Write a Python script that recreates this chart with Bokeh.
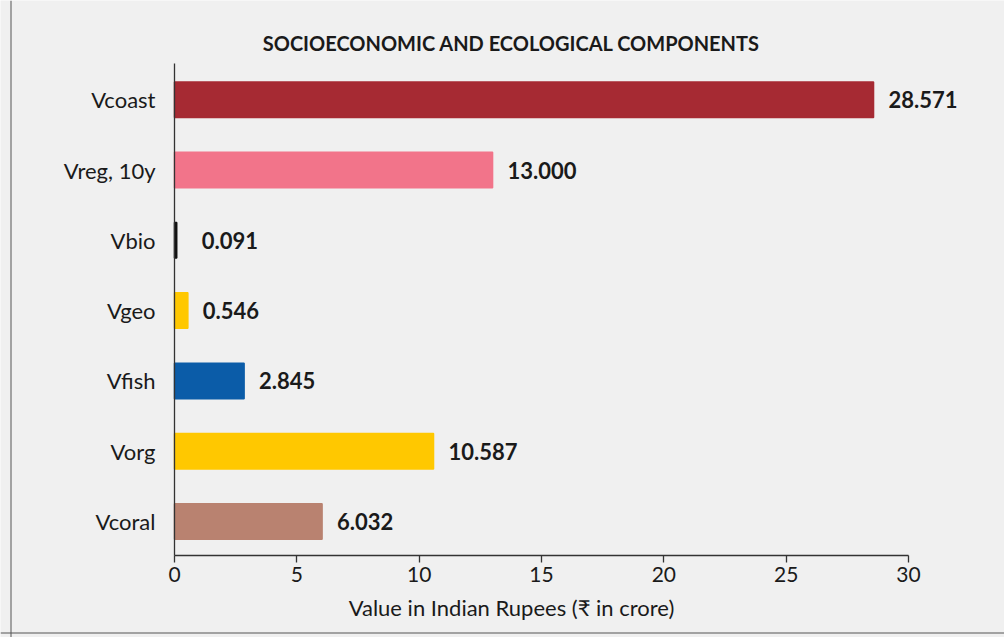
from bokeh.plotting import figure
from bokeh.models import ColumnDataSource, Label, LabelSet, Range1d, FixedTicker, Span
from bokeh.core.properties import value
from bokeh.embed import file_html
from bokeh.resources import INLINE

# ---- data ----
categories = ["Vcoast", "Vreg, 10y", "Vbio", "Vgeo", "Vfish", "Vorg", "Vcoral"]
values = [28.571, 13.000, 0.091, 0.546, 2.845, 10.587, 6.032]
value_labels = ["28.571", "13.000", "0.091", "0.546", "2.845", "10.587", "6.032"]
colors = ["#a62a33", "#f2748a", "#111111", "#ffc800", "#0b5ca8", "#ffc800", "#b98270"]
x_ticks = [0, 5, 10, 15, 20, 25, 30]
title_text = "SOCIOECONOMIC AND ECOLOGICAL COMPONENTS"
xlabel_text = "Value in Indian Rupees (\u20b9 in crore)"

FONT = "Lato"
BG = "#f0f0f0"
TXT = "#1a1a1a"

# ---- layout (page pixels; Bokeh's page template has no body margin) ----
FIG_W, FIG_H = 1004, 637
PAGE_L, PAGE_T = 0, 0
X0_PAGE = 174.0              # page x of value 0
PX_X = (908.0 - 174.0) / 30  # pixels per unit on x
Y0_PAGE = 521.0              # page y of the lowest category
PX_Y = 70.3                  # pixels per category step
BAR_EDGE = 1.5               # outline width of each bar (same colour)


def dx(px):
    return (px - X0_PAGE) / PX_X


def dy(py):
    return (Y0_PAGE - py) / PX_Y


n = len(categories)
ypos = list(range(n))[::-1]

src = ColumnDataSource(dict(
    y=ypos,
    val=values,
    lab=value_labels,
    col=colors,
    lx=[max(v, 0.5) for v in values],
))

p = figure(
    width=FIG_W, height=FIG_H,
    x_range=Range1d(dx(PAGE_L), dx(PAGE_L + FIG_W)),
    y_range=Range1d(dy(PAGE_T + FIG_H), dy(PAGE_T)),
    output_backend="svg", toolbar_location=None,
    min_border=0,
)
p.background_fill_color = BG
p.border_fill_color = BG
p.outline_line_color = None
p.grid.grid_line_color = None

p.hbar(y="y", right="val", left=0, height=(37 - BAR_EDGE) / PX_Y,
       fill_color="col", line_color="col", line_width=BAR_EDGE, source=src)

p.add_layout(LabelSet(x="lx", y="y", text="lab", source=src, x_offset=15,
                      text_baseline="middle", text_align="left",
                      text_font=value(FONT), text_font_style="bold",
                      text_font_size="22px", text_color=TXT))

# axes drawn at fixed positions
x_axis_y = dy(555)
y_axis_top = dy(63)

p.xaxis.fixed_location = x_axis_y
p.xaxis.bounds = (0, 30)
p.xaxis.ticker = FixedTicker(ticks=x_ticks)
p.xaxis.minor_tick_line_color = None
p.xaxis.major_tick_out = 7
p.xaxis.major_tick_in = 0
p.xaxis.axis_line_color = "#333333"
p.xaxis.major_tick_line_color = "#333333"
p.xaxis.axis_line_width = 1.3
p.xaxis.major_tick_line_width = 1.3
p.xaxis.major_label_text_font = FONT
p.xaxis.major_label_text_font_size = "21px"
p.xaxis.major_label_text_color = TXT
p.xaxis.major_label_standoff = 4

p.yaxis.fixed_location = 0
p.yaxis.bounds = (x_axis_y, y_axis_top)
p.yaxis.ticker = FixedTicker(ticks=ypos)
p.yaxis.major_label_overrides = {y: c for y, c in zip(ypos, categories)}
p.yaxis.major_tick_line_color = None
p.yaxis.minor_tick_line_color = None
p.yaxis.axis_line_color = "#333333"
p.yaxis.axis_line_width = 1.3
p.yaxis.major_label_text_font = FONT
p.yaxis.major_label_text_font_size = "22px"
p.yaxis.major_label_text_color = TXT
p.yaxis.major_label_standoff = 13

# title and axis label, centred on the chart block
p.add_layout(Label(x=dx(511), y=dy(42), text=title_text,
                   text_align="center", text_baseline="middle",
                   text_font=FONT, text_font_style="bold", text_font_size="20px",
                   text_color=TXT))
p.add_layout(Label(x=dx(511), y=dy(607), text=xlabel_text,
                   text_align="center", text_baseline="middle",
                   text_font=FONT, text_font_size="22px", text_color=TXT))

# thin frame lines of the chart box
p.add_layout(Span(location=dx(10.5), dimension="height", line_color="#555555", line_width=1))
p.add_layout(Span(location=dy(632.5), dimension="width", line_color="#555555", line_width=1))

html = file_html(p, INLINE)
html = html.replace("<body>", '<body style="background-color:%s;">' % BG, 1)
open("out.html", "w").write(html)
